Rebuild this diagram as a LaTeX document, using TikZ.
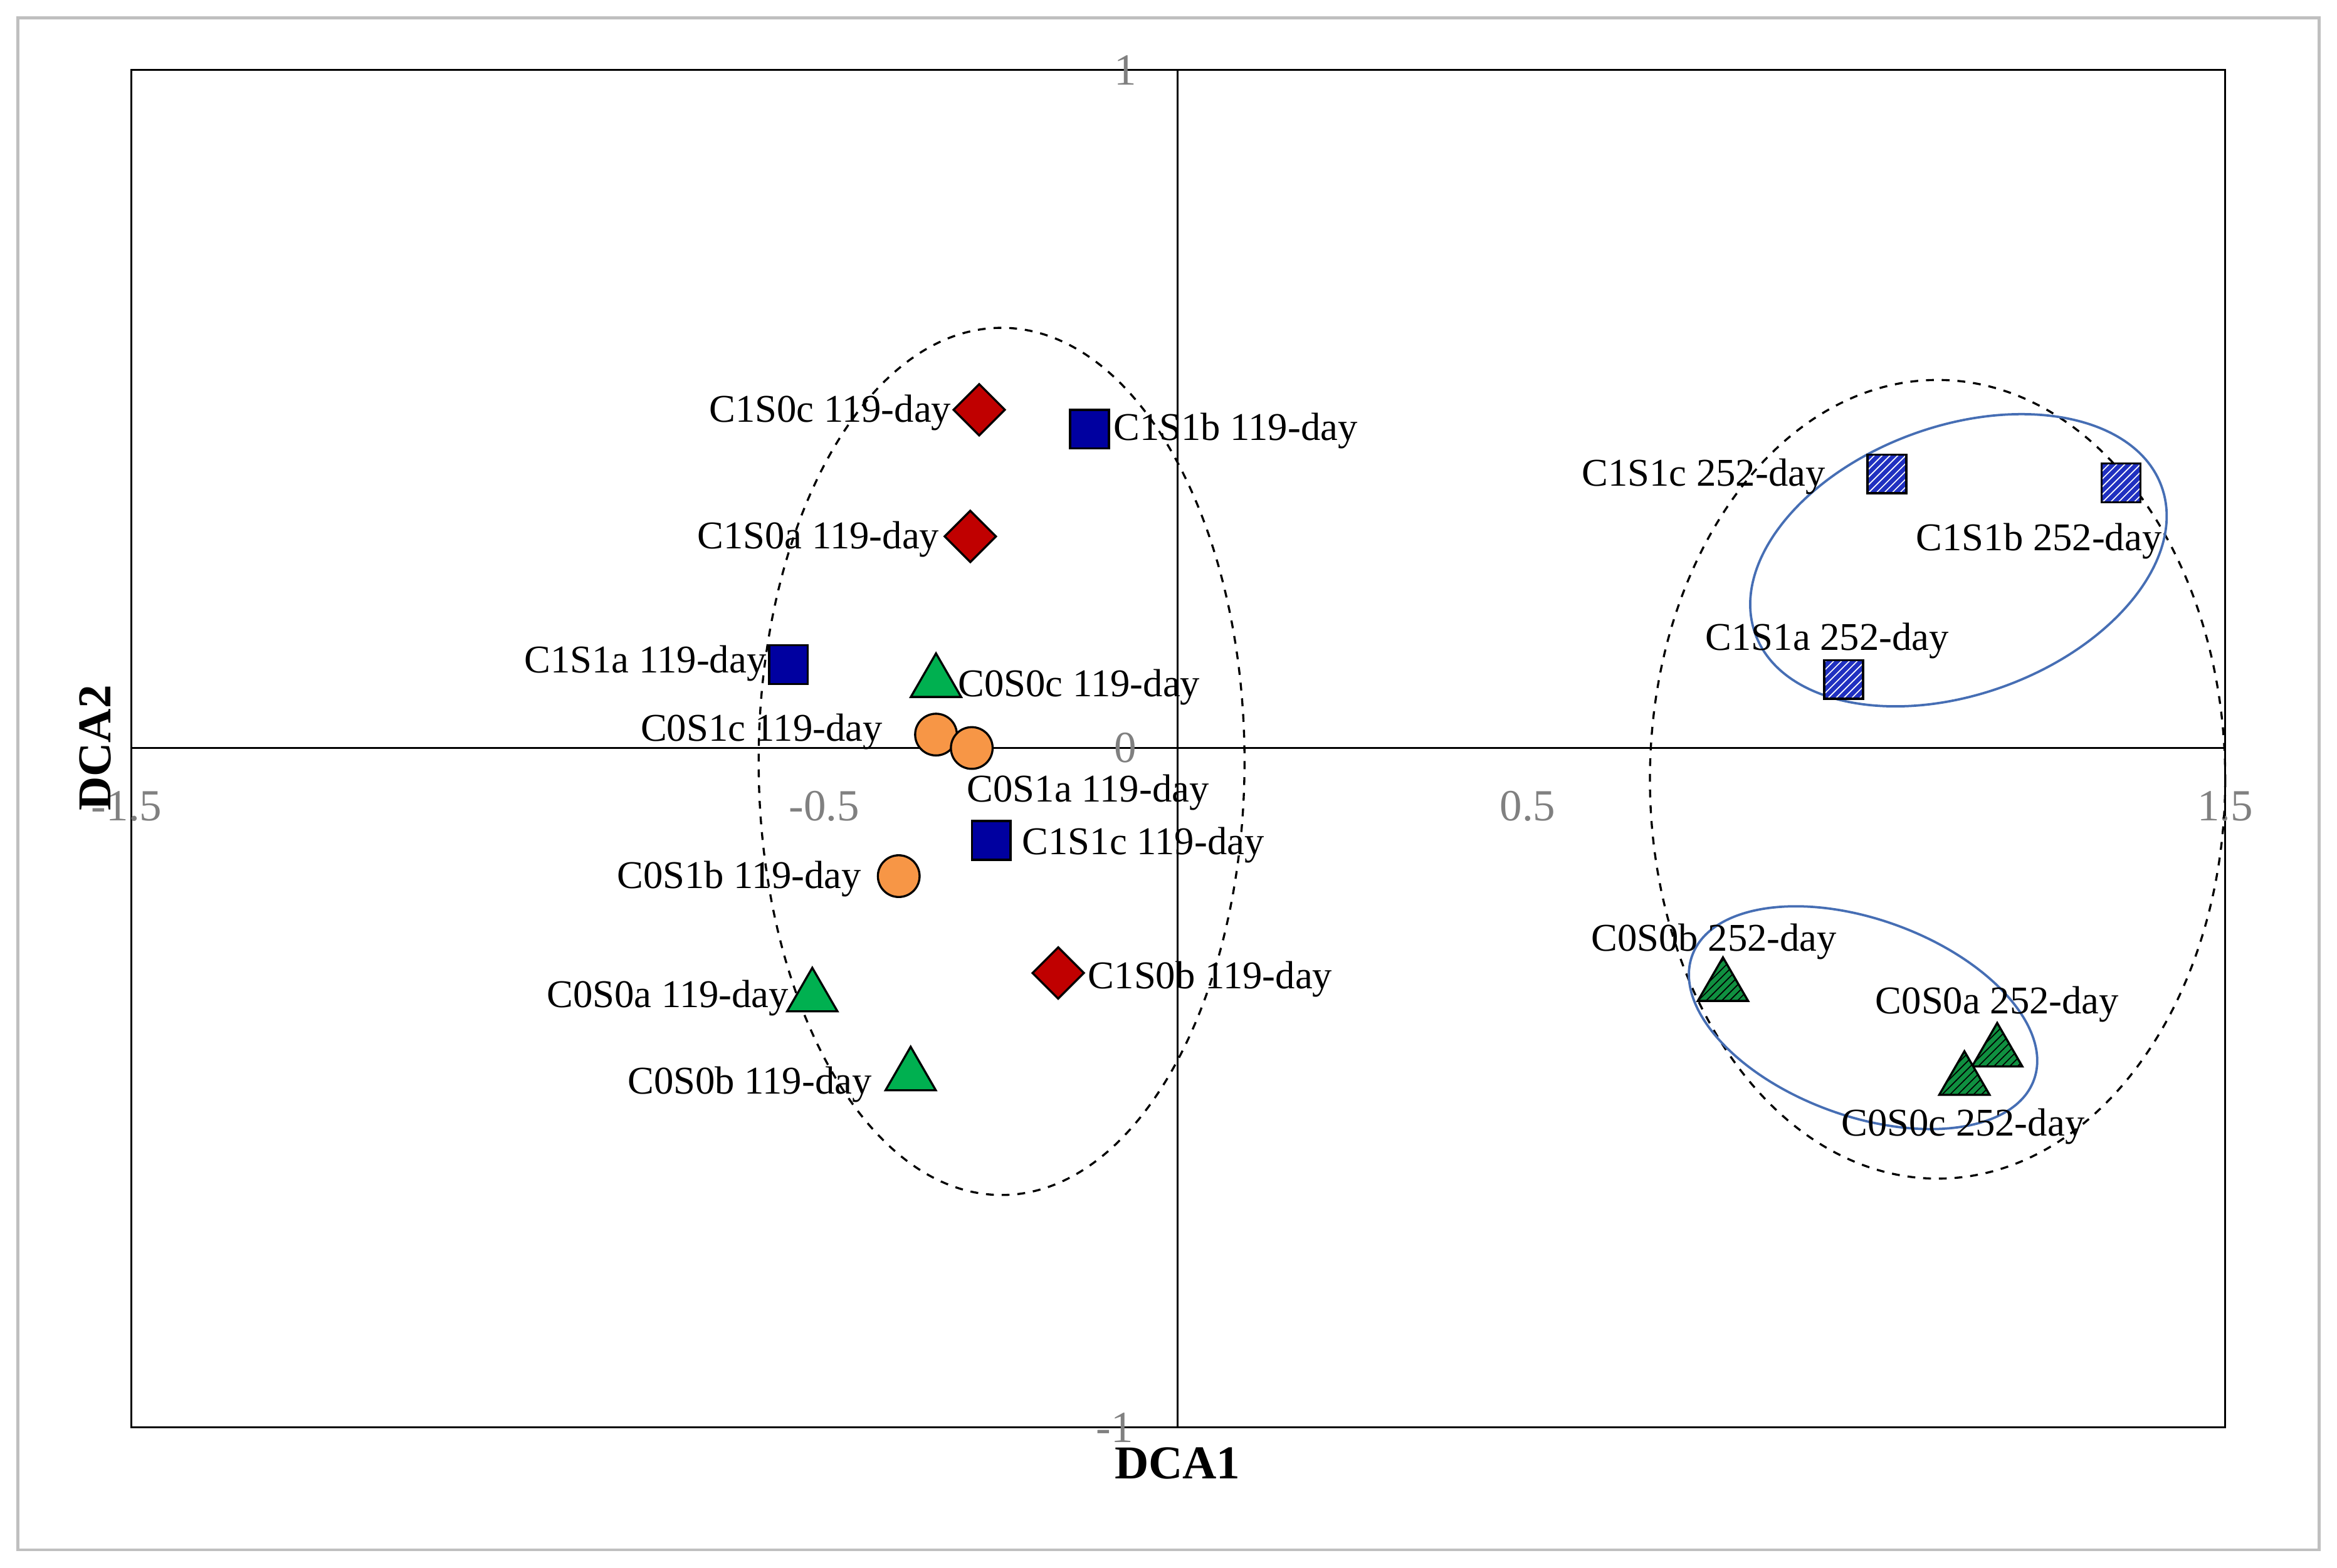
\documentclass[tikz,border=0pt]{standalone}
\usepackage{fontspec}
\setmainfont{Liberation Serif}
\usetikzlibrary{shapes.geometric,patterns}
\definecolor{dred}{HTML}{C00000}
\definecolor{dblue}{HTML}{0000A0}
\definecolor{mgreen}{HTML}{00B050}
\definecolor{orng}{HTML}{F79646}
\definecolor{hblue}{HTML}{2030C0}
\definecolor{hgreen}{HTML}{109040}
\tikzset{
 lab/.style={font=\fontsize{15}{18}\selectfont, inner sep=0pt},
 tick/.style={font=\fontsize{17}{20}\selectfont, text=gray, inner sep=0pt},
 dia/.style={diamond, draw=black, thick, fill=dred, minimum size=0.7cm, inner sep=0pt},
 sq/.style={rectangle, draw=black, thick, fill=dblue, minimum size=0.52cm, inner sep=0pt},
 tri/.style={regular polygon, regular polygon sides=3, draw=black, thick, fill=mgreen, minimum size=0.78cm, inner sep=0pt},
 cir/.style={circle, draw=black, thick, fill=orng, minimum size=0.56cm, inner sep=0pt},
 hsq/.style={rectangle, draw=black, thick, preaction={fill=hblue}, pattern=north east lines, pattern color=white, minimum size=0.52cm, inner sep=0pt},
 htri/.style={regular polygon, regular polygon sides=3, draw=black, thick, preaction={fill=hgreen}, pattern=north east lines, pattern color=black, minimum size=0.78cm, inner sep=0pt},
 bell/.style={draw={rgb,255:red,70;green,110;blue,180}, line width=0.9pt},
 dell/.style={draw=black, dashed, line width=0.8pt},
}
\begin{document}
\begin{tikzpicture}[x=0.02cm,y=-0.02cm]
\useasboundingbox (0,0) rectangle (1568,1052);
\draw[gray!50, line width=1pt] (12,12) rectangle (1556,1040);
\draw[line width=0.8pt] (88,47) rectangle (1493,958);
\coordinate (xt) at (790,47); \coordinate (xb) at (790,958);
\coordinate (yl) at (88,502); \coordinate (yr) at (1493,502);
\draw[line width=0.8pt] (xt) -- (xb);
\draw[line width=0.8pt] (yl) -- (yr);
\node[tick] (t1) at (755,47) {1};
\node[tick] (t0) at (755,502) {0};
\node[tick] (tm1) at (748,958) {-1};
\node[tick] (tx1) at (85,541) {-1.5};
\node[tick] (tx2) at (553,541) {-0.5};
\node[tick] (tx3) at (1025,541) {0.5};
\node[tick] (tx4) at (1493,541) {1.5};
\node[font=\bfseries\fontsize{18}{20}\selectfont] (xl) at (790,982) {DCA1};
\node[font=\bfseries\fontsize{18}{20}\selectfont, rotate=90] (ylab) at (64,502) {DCA2};
\draw[dell] (672,511) ellipse [x radius=163, y radius=291];
\draw[dell] (1300,523) ellipse [x radius=193, y radius=268];
\draw[bell] (1314,376) ellipse [x radius=145, y radius=90, rotate=20];
\draw[bell] (1250,683) ellipse [x radius=122, y radius=66, rotate=-20];
% markers
\node[dia] (m1) at (657,275) {};
\node[dia] (m2) at (651,360) {};
\node[dia] (m3) at (710,653) {};
\node[sq] (s1) at (731,288) {};
\node[sq] (s2) at (529,446) {};
\node[sq] (s3) at (665,564) {};
\node[tri] (g1) at (628,458) {};
\node[tri] (g2) at (545,669) {};
\node[tri] (g3) at (611,722) {};
\node[cir] (c1) at (628,493) {};
\node[cir] (c2) at (652,502) {};
\node[cir] (c3) at (603,588) {};
\node[hsq] (h1) at (1266,318) {};
\node[hsq] (h2) at (1423,324) {};
\node[hsq] (h3) at (1237,456) {};
\node[htri] (k1) at (1156,662) {};
\node[htri] (k2) at (1340,706) {};
\node[htri] (k3) at (1318,725) {};
% labels
\node[lab] (l1) at (557,277) {C1S0c 119-day};
\node[lab] (l2) at (829,289) {C1S1b 119-day};
\node[lab] (l3) at (549,362) {C1S0a 119-day};
\node[lab] (l4) at (433,445) {C1S1a 119-day};
\node[lab] (l5) at (724,461) {C0S0c 119-day};
\node[lab] (l6) at (511,491) {C0S1c 119-day};
\node[lab] (l7) at (730,532) {C0S1a 119-day};
\node[lab] (l8) at (767,567) {C1S1c 119-day};
\node[lab] (l9) at (496,590) {C0S1b 119-day};
\node[lab] (l10) at (812,657) {C1S0b 119-day};
\node[lab] (l11) at (448,670) {C0S0a 119-day};
\node[lab] (l12) at (503,728) {C0S0b 119-day};
\node[lab] (l13) at (1143,320) {C1S1c 252-day};
\node[lab] (l14) at (1368,363) {C1S1b 252-day};
\node[lab] (l15) at (1226,430) {C1S1a 252-day};
\node[lab] (l16) at (1150,632) {C0S0b 252-day};
\node[lab] (l17) at (1340,674) {C0S0a 252-day};
\node[lab] (l18) at (1317,756) {C0S0c 252-day};
\end{tikzpicture}
\end{document}
